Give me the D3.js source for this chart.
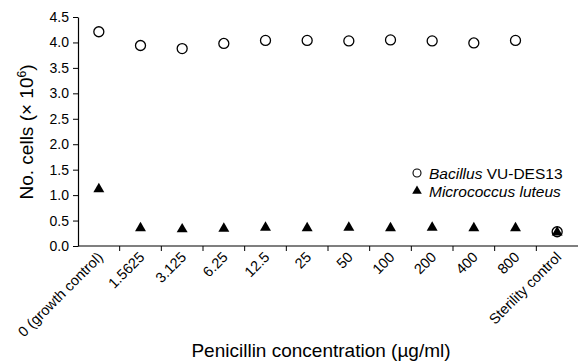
<!DOCTYPE html>
<html>
<head>
<meta charset="utf-8">
<script src="https://cdn.jsdelivr.net/npm/d3@7"></script>
<style>
  body { margin: 0; background: #fff; }
  text { font-family: "Liberation Sans", Arial, sans-serif; fill: #000; }
</style>
</head>
<body>
<svg id="chart" width="578" height="362"></svg>
<script>
// categories along x (penicillin concentration)
const categories = ["0 (growth control)", "1.5625", "3.125", "6.25", "12.5", "25",
                    "50", "100", "200", "400", "800", "Sterility control"];
// cell counts (x 10^6)
const bacillus = [4.21, 3.94, 3.88, 3.98, 4.04, 4.04, 4.03, 4.05, 4.03, 3.99, 4.04, 0.28];
const micrococcus = [1.12, 0.35, 0.33, 0.34, 0.36, 0.35, 0.36, 0.35, 0.36, 0.35, 0.35, 0.27];
const yTicks = [0, 0.5, 1, 1.5, 2, 2.5, 3, 3.5, 4, 4.5];

const svg = d3.select("#chart");
const margin = { top: 17, left: 78, right: 0, bottom: 116 };
const width = 578 - margin.left - margin.right;
const height = 362 - margin.top - margin.bottom;

const g = svg.append("g").attr("transform", `translate(${margin.left},${margin.top})`);

const x = d3.scaleBand().domain(categories).range([0, width]).padding(0);
const y = d3.scaleLinear().domain([0, 4.5]).range([height, 0]);

// y axis
const yAxis = g.append("g")
    .call(d3.axisLeft(y).tickValues(yTicks).tickFormat(d3.format(".1f")).tickSize(5).tickSizeOuter(0));
yAxis.selectAll("text").style("font-size", "14px").attr("dx", "-1");
yAxis.select(".domain").attr("stroke-width", 1.2);

// x axis: ticks on category boundaries
const xAxis = g.append("g").attr("transform", `translate(0,${height})`);
xAxis.append("line").attr("x1", 0).attr("x2", width).attr("stroke", "#000").attr("stroke-width", 1.2);
xAxis.selectAll(".tick").data(categories.slice(1)).join("line")
    .attr("class", "tick")
    .attr("x1", d => x(d)).attr("x2", d => x(d))
    .attr("y1", 0).attr("y2", 5)
    .attr("stroke", "#000");
xAxis.selectAll(".lab").data(categories).join("text")
    .attr("class", "lab")
    .attr("text-anchor", "end")
    .attr("transform", d => `translate(${x(d) + x.bandwidth() / 2 + 5},${12}) rotate(-45)`)
    .style("font-size", "14.5px")
    .text(d => d);

// markers
const tri = d3.symbol().type(d3.symbolTriangle).size(52);
g.selectAll(".mic").data(micrococcus).join("path")
    .attr("class", "mic")
    .attr("d", tri)
    .attr("transform", (d, i) => `translate(${x(categories[i]) + x.bandwidth() / 2},${y(d)})`)
    .attr("fill", "#000");
g.selectAll(".bac").data(bacillus).join("circle")
    .attr("class", "bac")
    .attr("cx", (d, i) => x(categories[i]) + x.bandwidth() / 2)
    .attr("cy", d => y(d))
    .attr("r", 5)
    .attr("fill", "none")
    .attr("stroke", "#000")
    .attr("stroke-width", 1.3);

// legend
const leg = svg.append("g").attr("transform", "translate(417,173)");
leg.append("circle").attr("cx", 0).attr("cy", 0).attr("r", 4).attr("fill", "none").attr("stroke", "#000").attr("stroke-width", 1.1);
const t1 = leg.append("text").attr("x", 12).attr("y", 5.5).style("font-size", "15.5px");
t1.append("tspan").style("font-style", "italic").text("Bacillus");
t1.append("tspan").text(" VU-DES13");
leg.append("path").attr("d", d3.symbol().type(d3.symbolTriangle).size(40))
    .attr("transform", "translate(0,18)").attr("fill", "#000");
leg.append("text").attr("x", 12).attr("y", 23.5).style("font-size", "15.5px").style("font-style", "italic")
    .text("Micrococcus luteus");

// axis titles
svg.append("text")
    .attr("transform", "translate(33,132) rotate(-90)")
    .attr("text-anchor", "middle")
    .style("font-size", "19px")
    .html('No. cells (× 10<tspan baseline-shift="super" font-size="12px">6</tspan>)');
svg.append("text")
    .attr("x", 321).attr("y", 357)
    .attr("text-anchor", "middle")
    .style("font-size", "19px")
    .text("Penicillin concentration (µg/ml)");
</script>
</body>
</html>
